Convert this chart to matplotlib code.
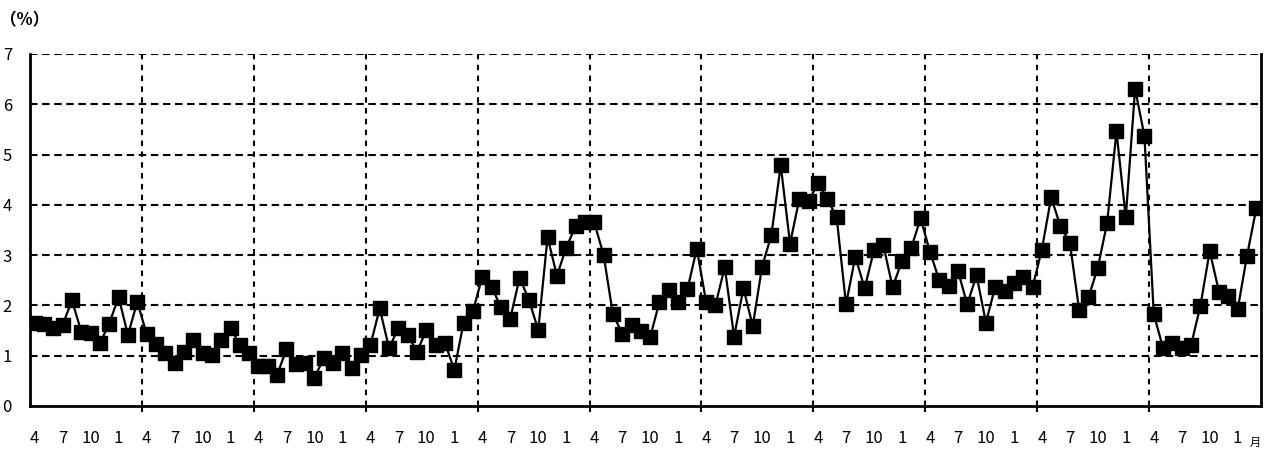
import numpy as np
import matplotlib.pyplot as plt

# monthly values, April to March, 11 fiscal years
y1 = [1.66, 1.64, 1.55, 1.61, 2.10, 1.48, 1.45, 1.25, 1.64, 2.17, 1.41, 2.07]
y2 = [1.44, 1.23, 1.05, 0.85, 1.07, 1.31, 1.06, 1.01, 1.31, 1.56, 1.21, 1.05]
y3 = [0.80, 0.80, 0.62, 1.13, 0.83, 0.85, 0.56, 0.95, 0.85, 1.05, 0.76, 1.02]
y4 = [1.21, 1.94, 1.15, 1.55, 1.41, 1.08, 1.51, 1.21, 1.25, 0.72, 1.66, 1.89]
y5 = [2.57, 2.37, 1.96, 1.74, 2.55, 2.11, 1.51, 3.36, 2.59, 3.15, 3.57, 3.65]
y6 = [3.65, 3.01, 1.83, 1.44, 1.61, 1.49, 1.37, 2.07, 2.31, 2.07, 2.32, 3.13]
y7 = [2.07, 2.01, 2.76, 1.38, 2.34, 1.59, 2.77, 3.40, 4.79, 3.23, 4.12, 4.08]
y8 = [4.43, 4.12, 3.75, 2.02, 2.97, 2.34, 3.10, 3.20, 2.36, 2.89, 3.15, 3.73]
y9 = [3.07, 2.50, 2.38, 2.69, 2.02, 2.60, 1.66, 2.37, 2.29, 2.45, 2.57, 2.36]
y10 = [3.11, 4.15, 3.57, 3.25, 1.91, 2.16, 2.75, 3.64, 5.46, 3.75, 6.31, 5.37]
y11 = [1.83, 1.15, 1.25, 1.16, 1.21, 1.99, 3.08, 2.27, 2.18, 1.92, 2.99, 3.93]

month_labels = ['4', '7', '10', '1']

values = y1 + y2 + y3 + y4 + y5 + y6 + y7 + y8 + y9 + y10 + y11
n = len(values)
nyears = n // 12
x = np.arange(n)

plt.rcParams['font.family'] = ['Noto Sans CJK JP', 'DejaVu Sans']

fig = plt.figure(figsize=(12.71, 4.5), dpi=100)
ax = fig.add_axes([30/1271, 1 - 406/450, 1231/1271, 352/450])

dash = (0, (3.6, 2.2))
for yv in range(1, 8):
    ax.axhline(yv, color='black', lw=1.5, linestyle=dash, zorder=1)
for k in range(1, nyears):
    ax.axvline(12*k - 0.5, color='black', lw=1.5, linestyle=(0, (2.6, 2.6)), zorder=1)

ax.plot(x, values, color='black', lw=1.6, marker='s', markersize=10.5,
        markerfacecolor='black', markeredgecolor='black', zorder=3)

ax.set_xlim(-0.5, n - 0.5)
ax.set_ylim(0, 7)
ax.set_yticks(range(0, 8))
ax.tick_params(axis='y', length=0, pad=13, labelsize=12)

ticks = [12*k + m for k in range(nyears) for m in (0, 3, 6, 9)]
ax.set_xticks(ticks)
ax.set_xticklabels(month_labels * nyears)
ax.tick_params(axis='x', length=0, pad=17, labelsize=12)
ax.set_xticks([12*k - 0.5 for k in range(1, nyears)], minor=True)
ax.tick_params(axis='x', which='minor', length=4, width=1.5, direction='out')

for side in ['left', 'bottom', 'right']:
    ax.spines[side].set_linewidth(2)
ax.spines['top'].set_visible(False)

fig.text(0/1271, 1 - 20/450, '（%）', fontsize=12, fontweight='bold', va='center', ha='left')
fig.text(1255/1271, 1 - 443/450, '月', fontsize=8, va='center', ha='center')

fig.savefig('out.png', dpi=100)
